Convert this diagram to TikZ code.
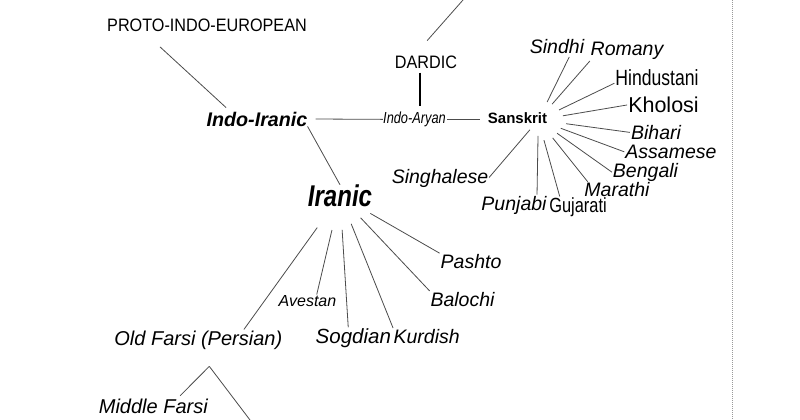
\documentclass[tikz,border=0pt]{standalone}
\usepackage{fontspec}
\setmainfont{Liberation Sans}
\newfontfamily\narrowsf[FakeStretch=0.8]{Liberation Sans}
\newfontfamily\capsf[FakeStretch=0.9]{Liberation Sans}
\newcommand\px[1]{\fontsize{#1}{#1}\selectfont}
\begin{document}
\begin{tikzpicture}[x=1pt,y=-1pt,
  lang/.style={anchor=base,inner sep=0pt,font=\px{19.5}\itshape},
  group/.style={anchor=base,inner sep=0pt,font=\capsf\px{18}},
  link/.style={draw=black!70,line width=0.8pt},
  fan/.style={link,shorten <=#1}]
\useasboundingbox (0,0) rectangle (800,420);
\fill[white] (0,0) rectangle (800,420);
% top of the tree
\node[group] (proto) at (207,31.5) {PROTO-INDO-EUROPEAN};
\node[group] (dardic) at (426,68.3) {DARDIC};
\node[lang,font=\px{19.7}\bfseries\itshape] (indoir) at (257,126) {Indo-Iranic};
\node[lang,font=\narrowsf\px{16}\itshape] (indoar) at (414.5,123.5) {Indo-Aryan};
\node[lang,font=\px{15}\bfseries] (skt) at (517.5,123.3) {Sanskrit};
% Indo-Aryan languages
\node[lang] (sindhi) at (557,53) {Sindhi};
\node[lang] (romany) at (627,56) {Romany};
\node[lang,font=\narrowsf\px{22}] (hind) at (657,85.7) {Hindustani};
\node[lang,font=\px{21.5}] (khol) at (663.5,112.5) {Kholosi};
\node[lang] (bihari) at (656,139.5) {Bihari};
\node[lang] (assam) at (671,158.8) {Assamese};
\node[lang] (beng) at (645.5,177.8) {Bengali};
\node[lang] (mar) at (617,196.8) {Marathi};
\node[lang,font=\narrowsf\px{20.5}] (guj) at (578,212.5) {Gujarati};
\node[lang] (punj) at (514,210) {Punjabi};
\node[lang] (sing) at (440,183.3) {Singhalese};
% Iranic languages
\node[lang,font=\narrowsf\px{30}\bfseries\itshape] (iranic) at (340,206.7) {Iranic};
\node[lang] (pashto) at (471,268) {Pashto};
\node[lang] (baloch) at (462.5,306) {Balochi};
\node[lang,font=\px{16}\itshape] (aves) at (307.5,306.7) {Avestan};
\node[lang,font=\px{20.5}\itshape] (sogd) at (353.3,343.3) {Sogdian};
\node[lang] (kurd) at (426.7,343.3) {Kurdish};
\node[lang,font=\px{20}\itshape] (oldf) at (198.3,345) {Old Farsi (Persian)};
\node[lang,font=\px{20}\itshape] (midf) at (153.3,413.3) {Middle Farsi};
\coordinate (fan) at ([xshift=-9pt,yshift=-2pt]skt.east);
\coordinate (ofs) at ([xshift=11pt,yshift=-17pt]oldf.south);
\coordinate (top) at (463,0);
\coordinate (bottom) at (250,420);
% branches
\draw[link] ([xshift=-47pt,yshift=-15pt]proto.south) -- ([xshift=-31pt,yshift=4pt]indoir.north);
\draw[link] (indoir.south east) -- (iranic.north);
\draw[link,shorten <=8pt] (indoir.east) -- (indoar.west);
\draw[link,shorten <=1pt,shorten >=8pt] (indoar.east) -- (indoar.east -| skt.west);
\draw[line width=2pt,shorten <=4pt,shorten >=6pt] ([xshift=-6pt]dardic.south) -- ([xshift=-6pt]dardic.south |- indoar.north);
\draw[link,shorten <=20pt] ([xshift=-12pt]dardic.north) -- (top);
% Sanskrit fan
\draw[fan=20pt,shorten >=4pt] (fan) -- ([xshift=14pt]sindhi.south);
\draw[fan=21pt,shorten >=1pt] (fan) -- (romany.south west);
\draw[fan=23pt,shorten >=1pt] (fan) -- ([yshift=-5pt]hind.west);
\draw[fan=25pt,shorten >=1pt] (fan) -- (khol.west);
\draw[fan=28pt,shorten >=1pt] (fan) -- (bihari.west);
\draw[fan=24pt,shorten >=1pt] (fan) -- (assam.west);
\draw[fan=23pt,shorten >=1pt] (fan) -- (beng.west);
\draw[fan=23pt,shorten >=1pt] (fan) -- ([xshift=4pt]mar.north west);
\draw[fan=21pt,shorten >=1pt] (fan) -- ([xshift=-18pt]guj.north);
\draw[fan=16pt,shorten >=1pt] (fan) -- ([xshift=23pt]punj.north);
\draw[fan=13pt,shorten >=1pt] (fan) -- (sing.east);
% Iranic fan
\draw[fan=35pt,shorten >=1pt] (iranic.center) -- (pashto.north west);
\draw[fan=30pt,shorten >=1pt] (iranic.center) -- (baloch.north west);
\draw[fan=30pt,shorten >=1pt] (iranic.center) -- (kurd.north west);
\draw[fan=34pt,shorten >=1pt] (iranic.center) -- ([xshift=-5pt]sogd.north);
\draw[fan=35pt,shorten >=1pt] (iranic.center) -- ([xshift=9pt]aves.north);
\draw[fan=39pt,shorten >=1pt] (iranic.center) -- ([xshift=45pt]oldf.north);
% Persian
\draw[link,shorten >=4pt] (ofs) -- ([xshift=24pt]midf.north);
\draw[link] (ofs) -- (bottom);
% divider
\draw[gray!80,line width=1pt,dash pattern=on 1pt off 1pt] (732,0) -- (732,420);
\end{tikzpicture}
\end{document}
